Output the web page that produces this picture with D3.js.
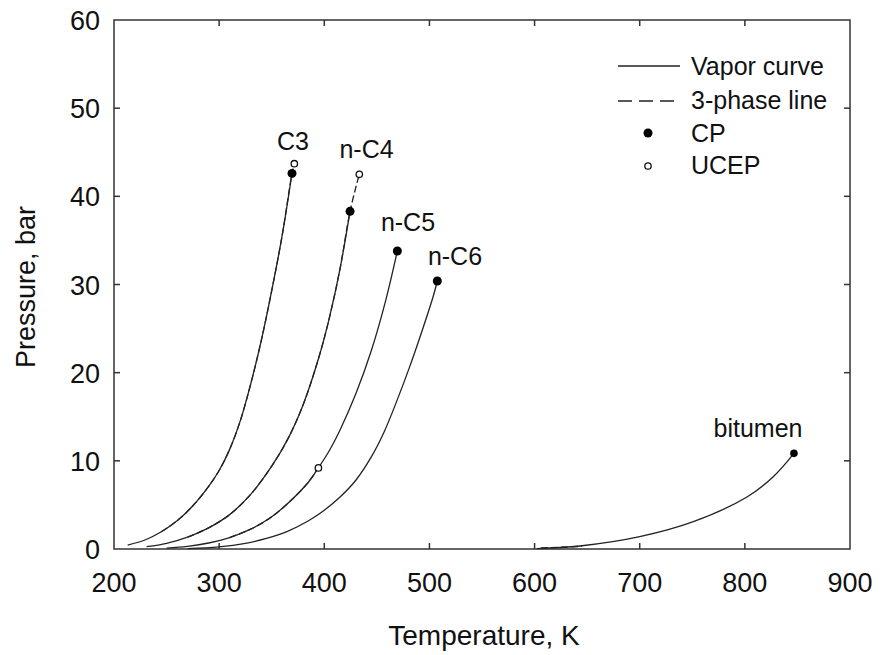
<!DOCTYPE html>
<html>
<head>
<meta charset="utf-8">
<script src="https://cdn.jsdelivr.net/npm/d3@7"></script>
<style>
  body { margin: 0; background: #fff; }
  text { font-family: "Liberation Sans", Arial, sans-serif; fill: #111; }
</style>
</head>
<body>
<div id="chart"></div>
<script>
// vapor curves, [T (K), P (bar)]
var c3Vapor = [[213, 0.45], [230, 1.05], [245, 1.95], [260, 3.2], [275, 4.9], [290, 7.1], [300, 8.9], [310, 11.3], [320, 14.5], [330, 18.7], [340, 23.6], [350, 29.3], [360, 35.6], [369.3, 42.6]]
var nc4Vapor = [[231, 0.26], [250, 0.65], [270, 1.35], [290, 2.4], [310, 3.9], [330, 6.2], [350, 9.4], [365, 12.4], [380, 16.4], [395, 21.8], [405, 26.3], [415, 31.8], [424.5, 38.3]]
var nc5Vapor = [[250, 0.1], [270, 0.3], [290, 0.68], [310, 1.3], [330, 2.25], [350, 3.65], [370, 5.7], [385, 7.6], [394.4, 9.2], [405, 11.2], [415, 13.5], [430, 17.6], [445, 22.6], [458, 28.0], [469.5, 33.8]]
var nc6Vapor = [[270, 0.05], [300, 0.25], [325, 0.65], [345, 1.2], [365, 2.0], [385, 3.2], [400, 4.4], [415, 5.9], [430, 7.8], [445, 10.5], [457, 13.3], [469, 16.8], [481, 20.6], [494, 25.1], [503.7, 28.7], [507.5, 30.4]]
var bitumenVapor = [[602, 0.05], [643, 0.34], [700, 1.4], [751, 3.1], [802, 5.9], [827, 8.2], [846.7, 10.85]]

// three-phase lines: they lie on the vapor curves and run on to the UCEP
var c3Ucep = [371.5, 43.7]
var nc4Ucep = [433.3, 42.5]
var nc5Ucep = [394.4, 9.2]
var c3ThreePhase = c3Vapor.slice(2).concat([c3Ucep])
var nc4ThreePhase = nc4Vapor.slice(2).concat([nc4Ucep])
var nc5ThreePhase = nc5Vapor.slice(3, 9)
var bitumenThreePhase = [[606, 0.12], [645, 0.3]]

var cpPoints = [[369.3, 42.6], [424.5, 38.3], [469.5, 33.8], [507.5, 30.4]]
var bitumenCP = [846.7, 10.85]
var ucepPoints = [c3Ucep, nc4Ucep, nc5Ucep]

var labels = [
  {name: "C3", T: 370.2, P: 45.25},
  {name: "n-C4", T: 440.2, P: 44.35},
  {name: "n-C5", T: 479.6, P: 36.07},
  {name: "n-C6", T: 524.3, P: 32.2},
  {name: "bitumen", T: 812.5, P: 12.7}
]

var xTicks = [200, 300, 400, 500, 600, 700, 800, 900]
var yTicks = [0, 10, 20, 30, 40, 50, 60]

var width = 880, height = 655
var margin = {top: 20, right: 30, bottom: 106, left: 114}

var svg = d3.select("#chart")
  .append("svg")
    .attr("width", width)
    .attr("height", height)

var x = d3.scaleLinear()
  .domain([200, 900])
  .range([margin.left, width - margin.right])

var y = d3.scaleLinear()
  .domain([0, 60])
  .range([height - margin.bottom, margin.top])

var x0 = x.range()[0], x1 = x.range()[1]
var y0 = y.range()[0], y1 = y.range()[1]
var tickLen = 6

// frame
svg.append("rect")
  .attr("x", x0).attr("y", y1)
  .attr("width", x1 - x0).attr("height", y0 - y1)
  .attr("fill", "none")
  .attr("stroke", "#333")
  .attr("stroke-width", 1.5)

// inward ticks on all four sides
var ticks = svg.append("g").attr("stroke", "#333").attr("stroke-width", 1.5)
xTicks.slice(1, -1).forEach(function (t) {
  ticks.append("line").attr("x1", x(t)).attr("x2", x(t)).attr("y1", y0).attr("y2", y0 - tickLen)
  ticks.append("line").attr("x1", x(t)).attr("x2", x(t)).attr("y1", y1).attr("y2", y1 + tickLen)
})
yTicks.slice(1, -1).forEach(function (t) {
  ticks.append("line").attr("x1", x0).attr("x2", x0 + tickLen).attr("y1", y(t)).attr("y2", y(t))
  ticks.append("line").attr("x1", x1).attr("x2", x1 - tickLen).attr("y1", y(t)).attr("y2", y(t))
})

// tick labels
svg.append("g").selectAll("text")
  .data(xTicks).enter()
  .append("text")
    .attr("x", function (d) { return x(d) })
    .attr("y", y0 + 43)
    .attr("text-anchor", "middle")
    .style("font-size", "27px")
    .text(function (d) { return d })

svg.append("g").selectAll("text")
  .data(yTicks).enter()
  .append("text")
    .attr("x", x0 - 14)
    .attr("y", function (d) { return y(d) + 10 })
    .attr("text-anchor", "end")
    .style("font-size", "27px")
    .text(function (d) { return d })

// axis titles
svg.append("text")
  .attr("x", 484).attr("y", 645)
  .attr("text-anchor", "middle")
  .style("font-size", "28px")
  .text("Temperature, K")

svg.append("text")
  .attr("transform", "translate(35,287) rotate(-90)")
  .attr("text-anchor", "middle")
  .style("font-size", "27px")
  .text("Pressure, bar")

var line = d3.line()
  .x(function (d) { return x(d[0]) })
  .y(function (d) { return y(d[1]) })
  .curve(d3.curveCatmullRom.alpha(0.5))

// vapor curves
var plot = svg.append("g")
;[c3Vapor, nc4Vapor, nc5Vapor, nc6Vapor, bitumenVapor].forEach(function (s) {
  plot.append("path")
    .attr("d", line(s))
    .attr("fill", "none")
    .attr("stroke", "#222")
    .attr("stroke-width", 1.3)
})

// three-phase lines
;[c3ThreePhase, nc4ThreePhase, nc5ThreePhase, bitumenThreePhase].forEach(function (s) {
  plot.append("path")
    .attr("d", line(s))
    .attr("fill", "none")
    .attr("stroke", "#222")
    .attr("stroke-width", 1.3)
    .attr("stroke-dasharray", "7,3")
})

// critical points
plot.selectAll(".cp")
  .data(cpPoints).enter()
  .append("circle")
    .attr("cx", function (d) { return x(d[0]) })
    .attr("cy", function (d) { return y(d[1]) })
    .attr("r", 4.5)
    .attr("fill", "#000")

plot.append("circle")
  .attr("cx", x(bitumenCP[0]))
  .attr("cy", y(bitumenCP[1]))
  .attr("r", 3.8)
  .attr("fill", "#000")

// upper critical end points
plot.selectAll(".ucep")
  .data(ucepPoints).enter()
  .append("circle")
    .attr("cx", function (d) { return x(d[0]) })
    .attr("cy", function (d) { return y(d[1]) })
    .attr("r", 3.2)
    .attr("fill", "#fff")
    .attr("stroke", "#111")
    .attr("stroke-width", 1.3)

// component labels
svg.append("g").selectAll("text")
  .data(labels).enter()
  .append("text")
    .attr("x", function (d) { return x(d.T) })
    .attr("y", function (d) { return y(d.P) })
    .attr("text-anchor", "middle")
    .style("font-size", "25px")
    .text(function (d) { return d.name })

// legend
var lg = svg.append("g")
lg.append("line").attr("x1", 618).attr("x2", 680).attr("y1", 66).attr("y2", 66)
  .attr("stroke", "#222").attr("stroke-width", 1.3)
lg.append("line").attr("x1", 618).attr("x2", 680).attr("y1", 101).attr("y2", 101)
  .attr("stroke", "#222").attr("stroke-width", 1.3).attr("stroke-dasharray", "14,7")
lg.append("circle").attr("cx", 648).attr("cy", 133).attr("r", 4.5).attr("fill", "#000")
lg.append("circle").attr("cx", 648).attr("cy", 166).attr("r", 3.2)
  .attr("fill", "#fff").attr("stroke", "#111").attr("stroke-width", 1.3)

var legendText = ["Vapor curve", "3-phase line", "CP", "UCEP"]
var legendY = [75, 109, 142, 174]
legendText.forEach(function (t, i) {
  lg.append("text")
    .attr("x", 691).attr("y", legendY[i])
    .style("font-size", "25px")
    .text(t)
})
</script>
</body>
</html>
